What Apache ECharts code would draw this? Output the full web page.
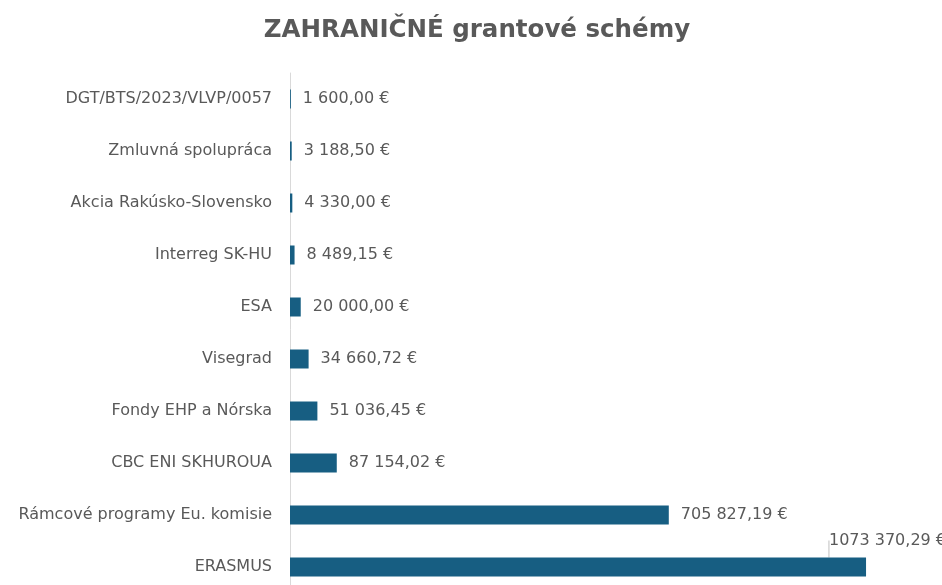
<!DOCTYPE html>
<html><head><meta charset="utf-8">
<script src="https://cdn.jsdelivr.net/npm/echarts@6/dist/echarts.min.js"></script>
<style>html,body{margin:0;padding:0;background:#fff}#c{width:942px;height:585px}</style>
</head><body><div id="c"></div>
<script>
const titleText = 'ZAHRANIČNÉ grantové schémy';
const categories = ['ERASMUS','Rámcové programy Eu. komisie','CBC ENI SKHUROUA','Fondy EHP a Nórska','Visegrad','ESA','Interreg SK-HU','Akcia Rakúsko-Slovensko','Zmluvná spolupráca','DGT/BTS/2023/VLVP/0057'];
const values = [1073370.29,705827.19,87154.02,51036.45,34660.72,20000,8489.15,4330,3188.5,1600];
const axisMax = 1200000;

function fmt(v){
  const parts = v.toFixed(2).split('.');
  let ip = parts[0];
  if (ip.length > 3) ip = ip.slice(0, ip.length-3) + ' ' + ip.slice(-3);
  return ip + ',' + parts[1] + ' €';
}
const font = '"DejaVu Sans", sans-serif';
const seriesData = values.map((v,i)=> i===0
  ? {value:v, labelLine:{show:true,lineStyle:{color:'#bfbfbf',width:1}}}
  : {value:v});
const chart = echarts.init(document.getElementById('c'));
chart.setOption({
  animation:false,
  title:{text:titleText,left:472,textAlign:'center',top:13,textStyle:{fontFamily:font,fontSize:24.5,fontWeight:'bold',color:'#595959'}},
  grid:{left:290,right:8,top:73,height:520,containLabel:false,outerBoundsMode:'none'},
  xAxis:{type:'value',min:0,max:axisMax,show:false},
  yAxis:{type:'category',data:categories,
    axisLine:{show:true,lineStyle:{color:'#d9d9d9',width:1}},
    axisTick:{show:false},
    axisLabel:{color:'#595959',fontFamily:font,fontSize:16,margin:18}},
  series:[{type:'bar',data:seriesData,barWidth:19,
    itemStyle:{color:'#175e82'},
    label:{show:true,position:'right',distance:12,color:'#595959',fontFamily:font,fontSize:16,
      formatter:p=>fmt(p.value)},
    labelLine:{show:false},
    labelLayout:function(p){
      if(p.dataIndex===0){return {x:946,y:p.rect.y-17,align:'right',verticalAlign:'middle'};}
      return {};
    }
  }]
});
</script></body></html>
